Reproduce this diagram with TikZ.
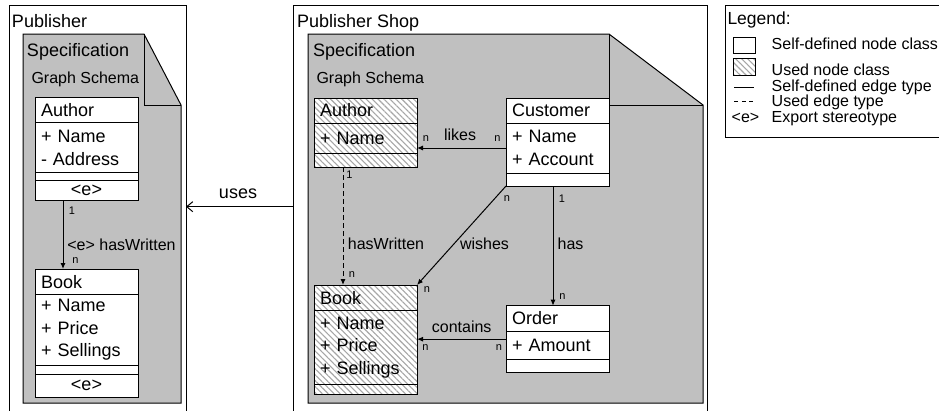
\documentclass[tikz,border=0pt]{standalone}
\usepackage{fontspec}
\setmainfont{Liberation Sans}
\usepackage{tikz}
\usetikzlibrary{arrows.meta,positioning,patterns.meta}
\definecolor{specgray}{HTML}{C0C0C0}
\definecolor{hatchgray}{HTML}{A6A6A6}

\newcommand\clsfont{\fontsize{18}{22.5}\selectfont}
\newcommand\lblfont{\fontsize{16}{19}\selectfont}
\newcommand\multfont{\fontsize{11}{13}\selectfont}

\begin{document}
\begin{tikzpicture}[x=1pt, y=-1pt, line width=1pt,
  every node/.style={inner sep=0pt, outer sep=0pt},
  panel/.style={draw, anchor=north west, minimum height=440pt},
  head/.style={anchor=base west, font=\clsfont},
  box/.style={draw, minimum width=103pt},
  cls/.style={box, fill=white},
  used/.style={box, preaction={fill=white}, pattern={Lines[angle=-45,distance=4.2pt,line width=1.1pt]}, pattern color=hatchgray},
  txt/.style={inner xsep=6pt, inner ysep=1pt, text width=91pt, align=left, font=\clsfont},
  lbl/.style={font=\lblfont},
  mult/.style={font=\multfont},
  rel/.style={-{Latex[length=6pt,width=5pt]}},
  usedrel/.style={rel, dash pattern=on 5pt off 3pt},
  usesarrow/.style={-{Straight Barb[length=6pt,width=10pt]}}]

  \clip (0,0) rectangle (939,410);

  % frames
  \node[panel, minimum width=177pt] (pub) at (9,5) {};
  \node[panel, minimum width=414pt] (shop) at (293,5) {};
  \node[panel, minimum width=260pt, minimum height=132pt] (legend) at (725.7,5) {};
  \node[head] (pubName) at (12,27.5) {Publisher};
  \node[head] (shopName) at (297,27.5) {Publisher Shop};

  % specification sheets
  \filldraw[fill=specgray] (23,34) -- (144,34) -- (181,105) -- (181,403) -- (23,403) -- cycle;
  \draw (144,34) -- (144,105) -- (181,105);
  \filldraw[fill=specgray] (308,34) -- (609,34) -- (703,105) -- (703,403) -- (308,403) -- cycle;
  \draw (609,34) -- (609,105) -- (703,105);
  \node[head] (specL) at (27,56.7) {Specification};
  \node[head, font=\lblfont] (schemaL) at (31.5,83.3) {Graph Schema};
  \node[head] (specR) at (313,56.7) {Specification};
  \node[head, font=\lblfont] (schemaR) at (316.5,83.3) {Graph Schema};

  % Publisher schema
  \node[cls, txt, minimum height=25pt, anchor=north west] (lAuth) at (35,97.7) {Author};
  \node[cls, txt, minimum height=50pt, below=0pt of lAuth] (lAuthA) {+ Name\\- Address};
  \node[cls, minimum height=7.3pt, below=0pt of lAuthA] (lAuthB) {};
  \node[cls, font=\clsfont, minimum height=20pt, below=0pt of lAuthB] (lAuthE) {<e>};

  \node[cls, txt, minimum height=25.7pt, anchor=north west] (lBook) at (35,269) {Book};
  \node[cls, txt, minimum height=70.3pt, below=0pt of lBook] (lBookA) {+ Name\\+ Price\\+ Sellings};
  \node[cls, minimum height=9.3pt, below=0pt of lBookA] (lBookB) {};
  \node[cls, font=\clsfont, minimum height=23pt, below=0pt of lBookB] (lBookE) {<e>};

  \draw[rel] ([xshift=-23.5pt]lAuthE.south) -- ([xshift=-23.5pt]lBook.north);
  \node[mult] (lm1) at (72,210.5) {1};
  \node[lbl] (lhw) at (121.5,245) {<e> hasWritten};
  \node[mult] (lm2) at (75.5,261) {n};

  % Publisher Shop schema
  \node[used, txt, minimum height=25pt, anchor=north west] (rAuth) at (314,98) {Author};
  \node[used, txt, minimum height=30pt, below=0pt of rAuth] (rAuthA) {+ Name};
  \node[used, minimum height=14pt, below=0pt of rAuthA] (rAuthB) {};

  \node[cls, txt, minimum height=25pt, anchor=north west] (cust) at (506,98) {Customer};
  \node[cls, txt, minimum height=50pt, below=0pt of cust] (custA) {+ Name\\+ Account};
  \node[cls, minimum height=13pt, below=0pt of custA] (custB) {};

  \node[used, txt, minimum height=25.7pt, anchor=north west] (rBook) at (314,285) {Book};
  \node[used, txt, minimum height=73.3pt, below=0pt of rBook] (rBookA) {+ Name\\+ Price\\+ Sellings};
  \node[used, minimum height=10pt, below=0pt of rBookA] (rBookB) {};

  \node[cls, txt, minimum height=25.3pt, anchor=north west] (ord) at (506,305.7) {Order};
  \node[cls, txt, minimum height=28.3pt, below=0pt of ord] (ordA) {+ Amount};
  \node[cls, minimum height=13.4pt, below=0pt of ordA] (ordB) {};

  \draw[rel] (custA.west) -- (custA.west -| rAuthA.east);
  \draw[usedrel] ([xshift=-22.5pt]rAuthB.south) -- ([xshift=-22.5pt]rBook.north);
  \draw[rel] (custB.south west) -- (rBook.north east);
  \draw[rel] ([xshift=-4.5pt]custB.south) -- ([xshift=-4.5pt]ord.north);
  \draw[rel] ([yshift=6pt]ordA.west) -- ([yshift=6pt]ordA.west -| rBookA.east);

  \node[mult] (rm1) at (426,139) {n};
  \node[lbl] (likes) at (460,135) {likes};
  \node[mult] (rm2) at (497.5,139) {n};
  \node[mult] (rm3) at (349.5,175) {1};
  \node[mult] (rm4) at (507,199) {n};
  \node[mult] (rm5) at (562,199) {1};
  \node[lbl] (rhw) at (386,244) {hasWritten};
  \node[lbl] (wishes) at (484.5,244) {wishes};
  \node[lbl] (has) at (570.5,244) {has};
  \node[mult] (rm6) at (352,275) {n};
  \node[mult] (rm7) at (427,290) {n};
  \node[mult] (rm8) at (562.5,296.7) {n};
  \node[lbl] (contains) at (461.7,327) {contains};
  \node[mult] (rm9) at (425.5,348) {n};
  \node[mult] (rm10) at (499,348) {n};

  % dependency between the two specifications
  \draw[usesarrow] ([yshift=18.3pt]shop.west) -- ([yshift=18.3pt]pub.east);
  \node[font=\clsfont] (uses) at (238,194) {uses};

  % legend
  \node[anchor=base west, font=\fontsize{17.5}{20}\selectfont] (legendHead) at (727.5,24.3) {Legend:};
  \node[cls, minimum width=21.7pt, minimum height=15.6pt, anchor=north west] (keyOwn) at (733.3,37.7) {};
  \node[used, minimum width=21.7pt, minimum height=16.7pt, anchor=north west] (keyUsed) at (733.3,58.3) {};
  \draw (734.3,87) -- (754,87);
  \draw[dash pattern=on 4pt off 3.5pt] (734.3,101) -- (754,101);
  \node[anchor=base west, font=\lblfont] (keyExp) at (731.7,122.5) {<e>};
  \node[anchor=base west, font=\lblfont] (txtOwn) at (771.7,49) {Self-defined node class};
  \node[anchor=base west, font=\lblfont] (txtUsed) at (771.7,75) {Used node class};
  \node[anchor=base west, font=\lblfont] (txtRel) at (771.7,91.5) {Self-defined edge type};
  \node[anchor=base west, font=\lblfont] (txtUsedRel) at (771.7,106) {Used edge type};
  \node[anchor=base west, font=\lblfont] (txtExp) at (771.7,122.5) {Export stereotype};
\end{tikzpicture}
\end{document}
